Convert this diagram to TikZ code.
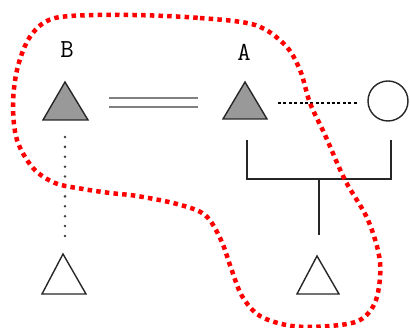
\documentclass[tikz,border=0pt]{standalone}
\begin{document}
\begin{tikzpicture}[x=1pt,y=-1pt,
  tri/.style={draw=black!85,line width=1.4pt,line join=miter},
  filled/.style={tri,fill=black!40},
  lbl/.style={inner sep=0pt,font=\ttfamily\fontsize{26}{26}\selectfont},
  ln/.style={draw=black!85,line width=1.4pt}]
\useasboundingbox (0,0) rectangle (410,328);
% labels
\node[lbl] (lB) at (67,50) {B};
\node[lbl] (lA) at (244,52) {A};
% triangles
\draw[filled] (65,82) -- (88,120) -- (43,120) -- cycle;
\draw[filled] (245,82) -- (267,119) -- (223,119) -- cycle;
\draw[tri] (63,254) -- (86,294) -- (42,294) -- cycle;
\draw[tri] (317,256) -- (339,294) -- (297,294) -- cycle;
% circle
\node[draw=black!85,line width=1.4pt,circle,minimum size=40pt,inner sep=0pt] (C) at (388,101) {};
% double line
\coordinate (d1) at (109,98);
\coordinate (d2) at (198,98);
\coordinate (d3) at (109,107);
\coordinate (d4) at (198,107);
\draw[draw=black!50,line width=2.4pt] (d1) -- (d2);
\draw[draw=black!50,line width=2.4pt] (d3) -- (d4);
% dotted vertical
\coordinate (v1) at (65,137);
\coordinate (v2) at (65,238);
\draw[line width=2.8pt,line cap=round,dash pattern=on 0pt off 9.9pt,draw=black!75] (v1) -- (v2);
% dashed A to circle
\coordinate (h1) at (278,103);
\coordinate (h2) at (357,103);
\draw[line width=2.6pt,dash pattern=on 3pt off 2.4pt,draw=black] (h1) -- (h2);
% family bracket
\coordinate (a1) at (247,140);
\coordinate (a2) at (247,179);
\coordinate (c1) at (391,140);
\coordinate (c2) at (391,179);
\coordinate (m1) at (319,179);
\coordinate (m2) at (319,235);
\draw[ln] (a1) -- (a2) -- (c2) -- (c1);
\draw[ln] (m1) -- (m2);
% red dotted closed curve
\draw[red,line width=4.5pt,dash pattern=on 4.5pt off 4.2pt]
  plot[smooth cycle,tension=0.55] coordinates {
  (133,15) (200,18) (255,25) (285,45) (300,70) (310,103) (325,135)
  (345,180) (368,220) (380,262) (376,300) (360,320) (330,326)
  (292,326) (260,316) (242,296) (231,268) (221,240) (205,215)
  (177,204) (137,196) (110,193) (83,189) (55,183) (33,168)
  (17,140) (13,105) (17,70) (28,40) (45,22) (70,16)};
\end{tikzpicture}
\end{document}
